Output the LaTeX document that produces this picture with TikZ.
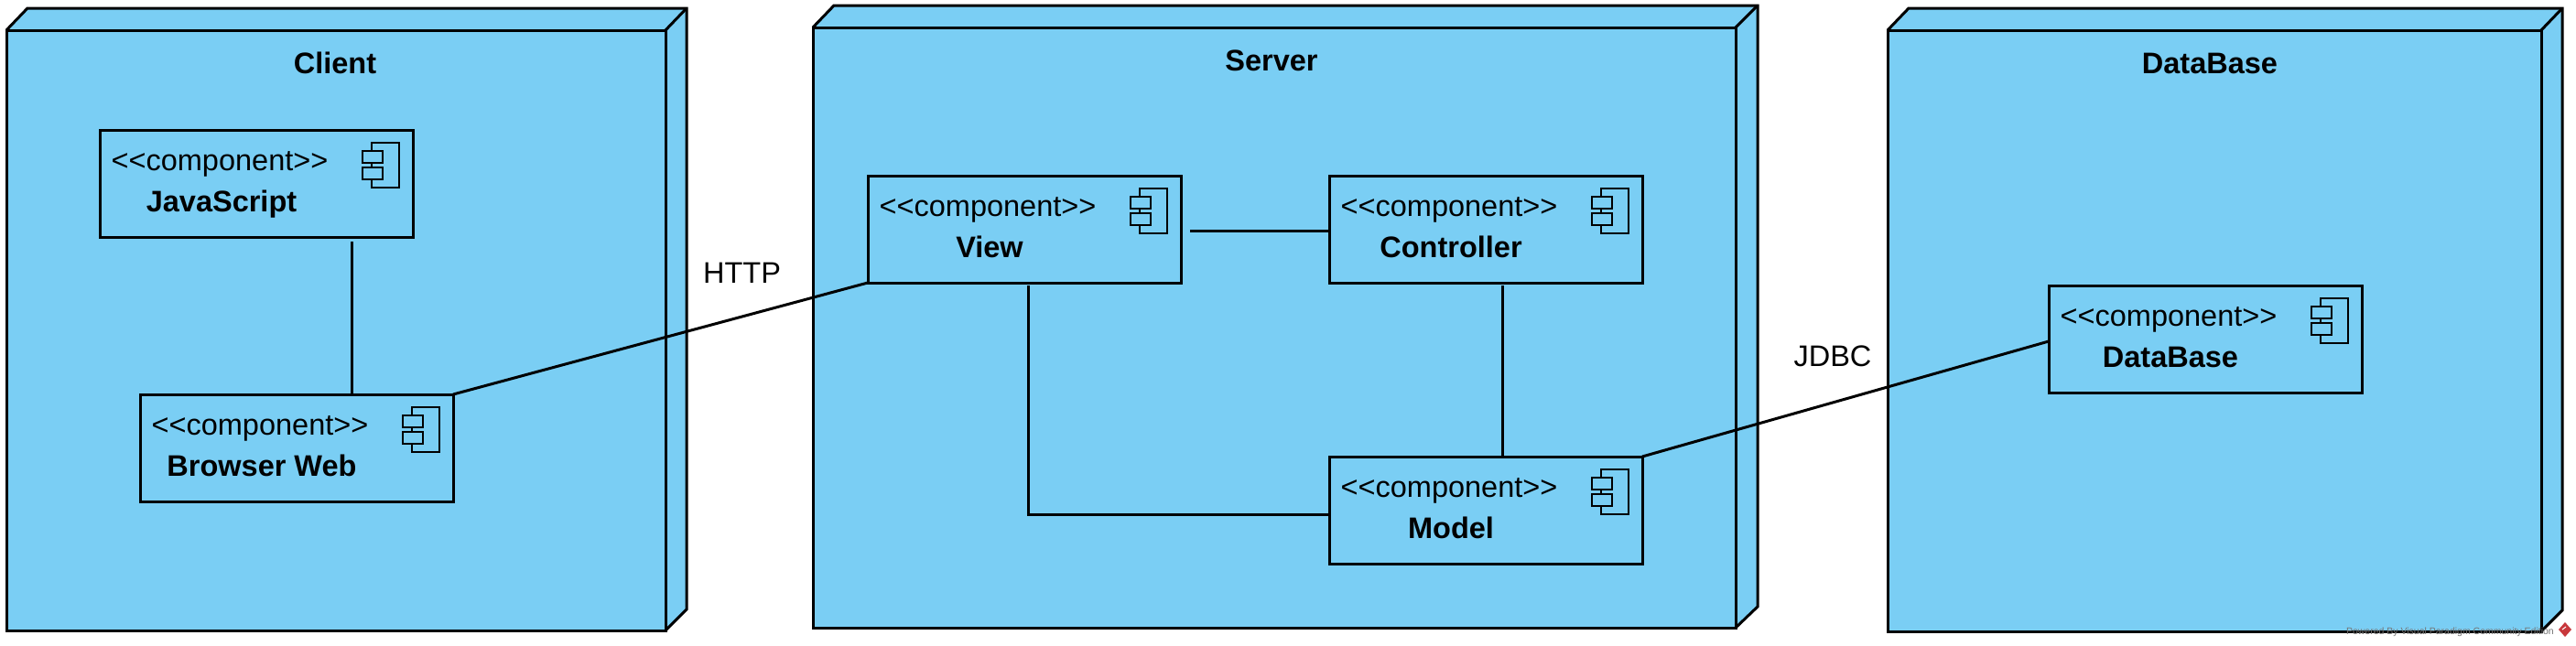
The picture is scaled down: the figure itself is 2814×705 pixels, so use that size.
\documentclass[tikz,border=0pt]{standalone}
\usepackage{fontspec}
\setmainfont{Liberation Sans}
\definecolor{nodeblue}{RGB}{122,206,244}
\definecolor{markred}{RGB}{200,56,60}
\tikzset{
  x=1pt,y=-1pt,
  linew/.style={line width=3pt,black,line join=miter},
  thinw/.style={line width=3pt,black},
  frontbox/.style={draw,linew,fill=nodeblue,rectangle,inner sep=0pt,outer sep=0pt},
  compbox/.style={frontbox,minimum width=342pt,minimum height=117pt,anchor=north west},
  txt/.style={inner sep=0pt,outer sep=0pt,anchor=base,font=\fontsize{32.5}{36}\selectfont},
  boldtxt/.style={txt,font=\fontsize{32.5}{36}\selectfont\bfseries},
  iconline/.style={line width=2.6pt,black,fill=nodeblue},
}
\newcommand{\deploynode}[8]{% name, L, frontR, backR, backT, frontT, frontB, backB
  \fill[nodeblue] (#2,#6) -- (#2+23,#5) -- (#4,#5) -- (#4,#8) -- (#3,#7) -- (#2,#7) -- cycle;
  \node[frontbox,anchor=north west,minimum width={(#3-#2)*1pt},minimum height={(#7-#6)*1pt}] (#1) at (#2,#6) {};
  \draw[linew] (#1.north west) -- (#2+23,#5) -- (#4,#5) -- (#4,#8) -- (#1.south east);
  \draw[linew] (#1.north east) -- (#4,#5);
}
\newcommand{\component}[4]{% name, x, y, title
  \node[compbox] (#1) at (#2,#3) {};
  \begin{scope}[shift={(#2,#3)}]
    \node[txt] (#1stereo) at (131,44) {<{}<component>{}>};
    \node[boldtxt] (#1title) at (133,89) {#4};
    \draw[iconline] (297,14) rectangle (327,63);
    \draw[iconline] (287,23) rectangle (309,36);
    \draw[iconline] (287,41) rectangle (309,54);
  \end{scope}
}
\begin{document}
\begin{tikzpicture}
\useasboundingbox (0,0) rectangle (2814,705);
\fill[white] (0,0) rectangle (2814,705);

\deploynode{client}{7}{727}{750}{9}{33}{689}{666}
\deploynode{server}{888}{1896}{1920}{6}{30}{686}{663}
\deploynode{database}{2062}{2776}{2799}{9}{33}{690}{667}

\node[boldtxt] (clientlabel) at (366,80) {Client};
\node[boldtxt] (serverlabel) at (1389,77) {Server};
\node[boldtxt] (databaselabel) at (2414,80) {DataBase};

\component{js}{109}{142}{JavaScript}
\component{browser}{153}{431}{Browser Web}
\component{view}{948}{192}{View}
\component{controller}{1452}{192}{Controller}
\component{model}{1452}{499}{Model}
\component{db}{2238}{312}{DataBase}

\coordinate (jsfree) at (384.5,264);
\coordinate (viewfreer) at (1300,252);
\coordinate (viewfreeb) at (1123,312);
\coordinate (viewbend) at (1123,562);
\coordinate (ctrlfree) at (1641,312);
\coordinate (dbend) at (2238,373);

\draw[thinw] (jsfree) -- (jsfree |- browser.north);
\draw[linew] (viewfreer) -- (viewfreer -| controller.west);
\draw[thinw] (ctrlfree) -- (ctrlfree |- model.north);
\draw[thinw] (viewfreeb) -- (viewbend) -- (viewbend -| model.west);
\draw[linew] (browser.north east) -- (view.south west);
\draw[linew] (model.north east) -- (dbend);

\node[txt] (http) at (810.5,309) {HTTP};
\node[txt] (jdbc) at (2002,400) {JDBC};

\node[inner sep=0pt,anchor=base east,text=black!55,font=\fontsize{10.5}{12}\selectfont] (mark) at (2790,693) {Powered By Visual Paradigm Community Edition};
\fill[markred] (2802,680) -- (2809,688) -- (2802,696) -- (2795,688) -- cycle;
\draw[white,line width=1pt] (2799,688) -- (2803,685);
\end{tikzpicture}
\end{document}
